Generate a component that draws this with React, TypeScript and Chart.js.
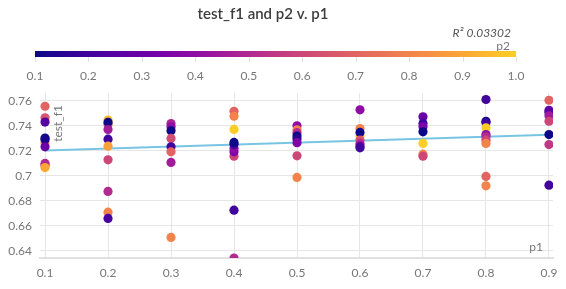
import React, { useEffect, useRef } from "react";
import { Chart, registerables } from "chart.js";
Chart.register(...registerables);

const chartTitle = "test_f1 and p2 v. p1";
const r2Label = "R² 0.03302";
const colorLabel = "p2";
const xLabel = "p1";
const yLabel = "test_f1";

const p1Values = [
  0.1, 0.1, 0.1, 0.1, 0.1, 0.1, 0.1, 0.1, 0.1, 0.1,
  0.2, 0.2, 0.2, 0.2, 0.2, 0.2, 0.2, 0.2, 0.2, 0.2,
  0.3, 0.3, 0.3, 0.3, 0.3, 0.3, 0.3, 0.3,
  0.4, 0.4, 0.4, 0.4, 0.4, 0.4, 0.4, 0.4, 0.4, 0.4,
  0.5, 0.5, 0.5, 0.5, 0.5, 0.5, 0.5, 0.5,
  0.6, 0.6, 0.6, 0.6, 0.6, 0.6, 0.6, 0.6,
  0.7, 0.7, 0.7, 0.7, 0.7, 0.7, 0.7,
  0.8, 0.8, 0.8, 0.8, 0.8, 0.8, 0.8, 0.8, 0.8, 0.8,
  0.9, 0.9, 0.9, 0.9, 0.9, 0.9, 0.9, 0.9,
];
const testF1Values = [
  0.7557, 0.7465, 0.7430, 0.7265, 0.7302, 0.7290, 0.7232, 0.7085, 0.7099, 0.7066,
  0.7447, 0.7412, 0.7428, 0.7370, 0.7293, 0.7237, 0.7128, 0.6875, 0.6709, 0.6659,
  0.7419, 0.7392, 0.7360, 0.7299, 0.7232, 0.7192, 0.7107, 0.6507,
  0.7517, 0.7477, 0.7371, 0.7157, 0.7192, 0.7219, 0.7250, 0.7267, 0.6725, 0.6341,
  0.7400, 0.7368, 0.7345, 0.7318, 0.7295, 0.7265, 0.7160, 0.6987,
  0.7528, 0.7378, 0.7320, 0.7347, 0.7286, 0.7259, 0.7238, 0.7224,
  0.7472, 0.7419, 0.7392, 0.7352, 0.7259, 0.7173, 0.7157,
  0.7611, 0.7437, 0.7424, 0.7384, 0.7330, 0.7312, 0.7285, 0.7259, 0.6995, 0.6920,
  0.7605, 0.7525, 0.7507, 0.7480, 0.7437, 0.7330, 0.7250, 0.6925,
];
const p2Values = [
  0.7, 0.65, 0.25, 0.85, 0.1, 0.12, 0.3, 0.55, 0.5, 0.9,
  0.95, 0.7, 0.1, 0.45, 0.2, 0.88, 0.6, 0.5, 0.8, 0.22,
  0.48, 0.4, 0.1, 0.62, 0.2, 0.7, 0.45, 0.8,
  0.7, 0.8, 1.0, 0.6, 0.35, 0.4, 0.2, 0.1, 0.2, 0.5,
  0.4, 0.8, 0.5, 0.1, 0.15, 0.35, 0.6, 0.8,
  0.4, 0.8, 1.0, 0.1, 0.65, 0.5, 0.3, 0.2,
  0.3, 0.2, 0.35, 0.1, 1.0, 0.8, 0.6,
  0.2, 0.1, 0.2, 1.0, 0.4, 0.5, 0.6, 0.8, 0.7, 0.8,
  0.7, 0.3, 0.25, 0.45, 0.6, 0.1, 0.55, 0.2,
];
const trendP1 = [0.1, 0.9];
const trendF1 = [0.7202, 0.7328];

const xTicks = [0.1, 0.2, 0.3, 0.4, 0.5, 0.6, 0.7, 0.8, 0.9];
const yTicks = [0.64, 0.66, 0.68, 0.7, 0.72, 0.74, 0.76];
const colorbarTicks = [0.1, 0.2, 0.3, 0.4, 0.5, 0.6, 0.7, 0.8, 0.9, 1.0];
const colorbarMin = 0.1;
const colorbarMax = 1.0;

const PLASMA = [
  "#0d0887", "#41049d", "#6a00a8", "#8f0da4", "#b12a90", "#cc4778",
  "#e16462", "#f2844b", "#fca636", "#fcce25", "#f0f921",
];
const PLASMA_SPAN = 0.9; // part of plasma used by the colour scale

const FONT = "Lato, 'Noto Sans', sans-serif";

function hexToRgb(h: string) {
  const n = parseInt(h.slice(1), 16);
  return [(n >> 16) & 255, (n >> 8) & 255, n & 255];
}
function plasma(t: number) {
  const tt = Math.max(0, Math.min(1, t)) * (PLASMA.length - 1);
  const i = Math.min(PLASMA.length - 2, Math.floor(tt));
  const f = tt - i;
  const a = hexToRgb(PLASMA[i]);
  const b = hexToRgb(PLASMA[i + 1]);
  const c = a.map((v, k) => Math.round(v + (b[k] - v) * f));
  return `rgb(${c[0]},${c[1]},${c[2]})`;
}
function colorFor(p2: number) {
  return plasma(((p2 - colorbarMin) / (colorbarMax - colorbarMin)) * PLASMA_SPAN);
}
function fmt(v: number) {
  return String(Number(v.toFixed(2)));
}

const overlayPlugin = {
  id: "overlay",
  afterDraw(chart: any) {
    const ctx = chart.ctx as CanvasRenderingContext2D;
    const area = chart.chartArea;
    ctx.save();
    // title
    ctx.fillStyle = "#3c3c3c";
    ctx.font = `600 15px ${FONT}`;
    ctx.textAlign = "center";
    ctx.textBaseline = "middle";
    ctx.fillText(chartTitle, 263, 14);
    // R2
    ctx.fillStyle = "#555";
    ctx.font = `italic 12px ${FONT}`;
    ctx.textAlign = "right";
    ctx.textBaseline = "middle";
    ctx.fillText(r2Label, 511, 33);
    // colorbar label
    ctx.fillStyle = "#777";
    ctx.font = `12px ${FONT}`;
    ctx.textBaseline = "alphabetic";
    ctx.fillText(colorLabel, 510, 50);
    // colorbar
    const cbL = 35, cbR = 516, cbT = 51, cbH = 6;
    const grad = ctx.createLinearGradient(cbL, 0, cbR, 0);
    for (let k = 0; k <= 20; k++) {
      const t = k / 20;
      grad.addColorStop(t, plasma(t * PLASMA_SPAN));
    }
    ctx.fillStyle = grad;
    ctx.fillRect(cbL, cbT, cbR - cbL, cbH);
    ctx.strokeStyle = "#e2e2e2";
    ctx.lineWidth = 1;
    ctx.fillStyle = "#777";
    ctx.font = `12px ${FONT}`;
    ctx.textAlign = "center";
    ctx.textBaseline = "middle";
    colorbarTicks.forEach((v) => {
      const x = cbL + ((v - colorbarMin) / (colorbarMax - colorbarMin)) * (cbR - cbL);
      ctx.beginPath();
      ctx.moveTo(Math.round(x) + 0.5, cbT + cbH);
      ctx.lineTo(Math.round(x) + 0.5, cbT + cbH + 5);
      ctx.stroke();
      ctx.fillText(v.toFixed(1), x, 76);
    });
    // axis titles inside plot
    ctx.fillStyle = "#777";
    ctx.font = `12px ${FONT}`;
    ctx.textAlign = "right";
    ctx.textBaseline = "alphabetic";
    ctx.fillText(xLabel, area.right - 10, area.bottom - 7);
    ctx.translate(area.left + 18, area.top + 12);
    ctx.rotate(-Math.PI / 2);
    ctx.textAlign = "right";
    ctx.textBaseline = "middle";
    ctx.fillText(yLabel, 0, 0);
    ctx.restore();
  },
};

export default function App() {
  const ref = useRef<HTMLCanvasElement | null>(null);
  useEffect(() => {
    if (!ref.current) return;
    const chart = new Chart(ref.current, {
      type: "scatter",
      data: {
        datasets: [
          {
            type: "scatter",
            data: p1Values.map((x, i) => ({ x, y: testF1Values[i] })),
            backgroundColor: p2Values.map(colorFor),
            borderWidth: 0,
            pointRadius: 4.6,
            order: 0,
          } as any,
          {
            type: "line",
            data: trendP1.map((x, i) => ({ x, y: trendF1[i] })),
            borderColor: "#78c5e3",
            borderWidth: 2,
            pointRadius: 0,
            fill: false,
            order: 1,
          } as any,
        ],
      },
      options: {
        responsive: false,
        animation: false,
        devicePixelRatio: 1,
        layout: { padding: { top: 93, right: 13, left: 0, bottom: 0 } },
        plugins: { legend: { display: false }, tooltip: { enabled: false }, title: { display: false } },
        scales: {
          x: {
            type: "linear",
            min: 0.092,
            max: 0.9064,
            afterBuildTicks: (s: any) => { s.ticks = xTicks.map((value) => ({ value })); },
            afterFit: (s: any) => { s.height = 31; },
            grid: { color: "#e6e6e6", lineWidth: 1, drawTicks: false },
            border: { display: true, color: "#e0e0e0", width: 2 },
            ticks: {
              color: "#777",
              font: { family: FONT, size: 12 },
              padding: 8,
              maxRotation: 0,
              callback: (v: any) => fmt(Number(v)),
            },
          },
          y: {
            type: "linear",
            min: 0.6342,
            max: 0.7663,
            afterBuildTicks: (s: any) => { s.ticks = yTicks.map((value) => ({ value })); },
            afterFit: (s: any) => { s.width = 40; },
            grid: { color: "#e6e6e6", lineWidth: 1, drawTicks: false },
            border: { display: false },
            ticks: {
              color: "#777",
              font: { family: FONT, size: 12 },
              padding: 8,
              callback: (v: any) => fmt(Number(v)),
            },
          },
        },
      } as any,
      plugins: [overlayPlugin],
    });
    return () => chart.destroy();
  }, []);
  return (
    <div style={{ position: "fixed", left: 0, top: 0, width: 566, height: 289, background: "#fff" }}>
      <canvas ref={ref} width={566} height={289} style={{ display: "block", width: 566, height: 289 }} />
    </div>
  );
}
